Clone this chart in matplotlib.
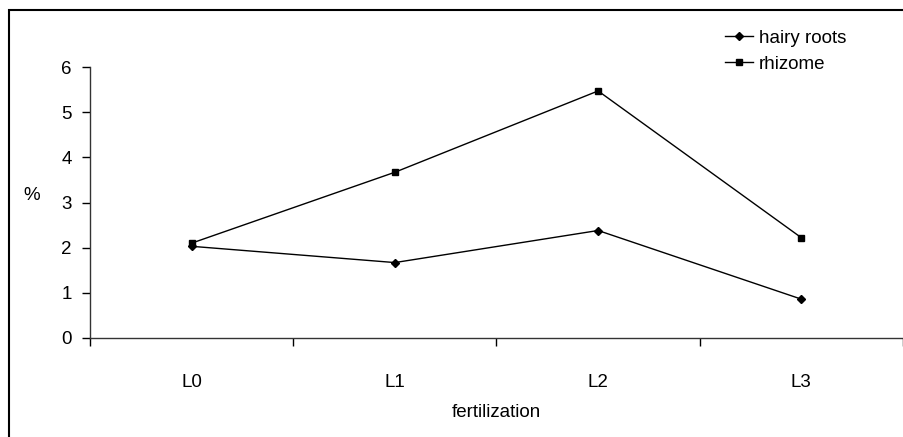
import matplotlib
matplotlib.use("Agg")
import matplotlib.pyplot as plt
from matplotlib.patches import Rectangle

plt.rcParams["font.family"] = ["Liberation Sans", "DejaVu Sans"]

# data
categories = ["L0", "L1", "L2", "L3"]
hairy_roots = [2.03, 1.67, 2.38, 0.86]
rhizome = [2.10, 3.67, 5.47, 2.22]
y_ticks = [0, 1, 2, 3, 4, 5, 6]

fig = plt.figure(figsize=(9.04, 4.37), dpi=100)
ax = fig.add_axes([90 / 904, (437 - 338) / 437, 813 / 904, (338 - 67) / 437])

x = list(range(len(categories)))
ax.plot(x, hairy_roots, color="black", lw=1, marker="D", ms=4.5, label="hairy roots")
ax.plot(x, rhizome, color="black", lw=1, marker="s", ms=5, label="rhizome")

ax.set_xlim(-0.5, len(categories) - 0.5)
ax.set_ylim(0, 6)
ax.set_yticks(y_ticks)
ax.set_yticklabels([str(v) for v in y_ticks], fontsize=13.5)

# category boundaries get tick marks, labels sit in the middle
ax.set_xticks([i - 0.5 for i in range(len(categories) + 1)])
ax.set_xticklabels([])
ax.set_xticks(x, minor=True)
ax.set_xticklabels(categories, minor=True, fontsize=13.5)
ax.tick_params(axis="x", which="major", length=6, width=1, direction="out")
ax.tick_params(axis="x", which="minor", length=0, pad=26)
ax.tick_params(axis="y", length=6, width=1, direction="out", pad=7)

for s in ["top", "right"]:
    ax.spines[s].set_visible(False)
for s in ["left", "bottom"]:
    ax.spines[s].set_color("#333333")
    ax.spines[s].set_linewidth(1)

ax.set_xlabel("fertilization", fontsize=13.5, labelpad=9)
fig.text(32 / 904, (437 - 195) / 437, "%", fontsize=13.5, ha="center", va="center")

fig.legend(loc="upper left", bbox_to_anchor=(708 / 904, (437 - 13) / 437),
           frameon=False, fontsize=13.5, handlelength=1.5, handletextpad=0.3,
           labelspacing=0.45)

# outer chart frame (cropped at right and bottom)
fig.patches.append(Rectangle((9 / 904, -0.1), 1.0, (437 - 10) / 437 + 0.1,
                             transform=fig.transFigure, fill=False,
                             edgecolor="black", lw=1.5, clip_on=False))

fig.savefig("out.png", dpi=100)
